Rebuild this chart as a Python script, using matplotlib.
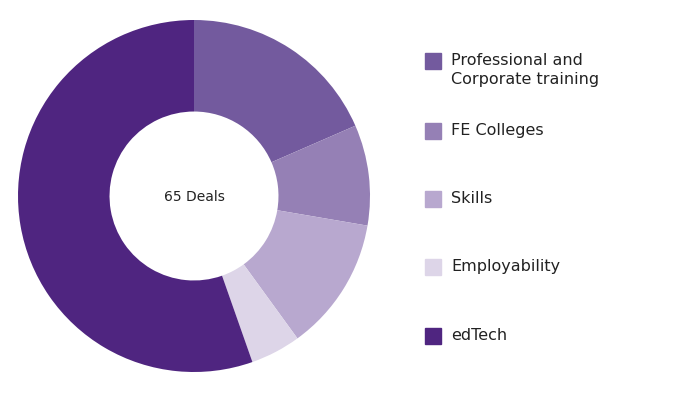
import matplotlib
matplotlib.use("Agg")
import matplotlib.pyplot as plt
from matplotlib.patches import Rectangle

categories = ["Professional and\nCorporate training", "FE Colleges", "Skills", "Employability", "edTech"]
values = [12, 6, 8, 3, 36]
colors = ["#735a9e", "#9580b5", "#b8a8cf", "#ddd5e8", "#4f2580"]
center_label = "65 Deals"

fig = plt.figure(figsize=(7, 4.02), dpi=100)
ax = fig.add_axes([18/700, 29/402, 352/700, 352/402])
ax.pie(values, colors=colors, startangle=90, counterclock=False,
       wedgeprops=dict(width=0.52, edgecolor="none"))
ax.set_xlim(-1, 1)
ax.set_ylim(-1, 1)
ax.set_aspect("equal")
ax.text(0, 0, center_label, ha="center", va="center", fontsize=10, color="#222222")

ys = [62, 132, 200, 268, 337]
for cat, col, y in zip(categories, colors, ys):
    fig.patches.append(Rectangle((425/700, 1 - (y + 8)/402), 16/700, 16/402,
                                 transform=fig.transFigure, color=col, figure=fig))
    fig.text(451/700, 1 - (y - 9)/402, cat, ha="left", va="top",
             fontsize=11.5, color="#222222", linespacing=1.3, fontweight="medium")

fig.savefig("out.png", dpi=100)
